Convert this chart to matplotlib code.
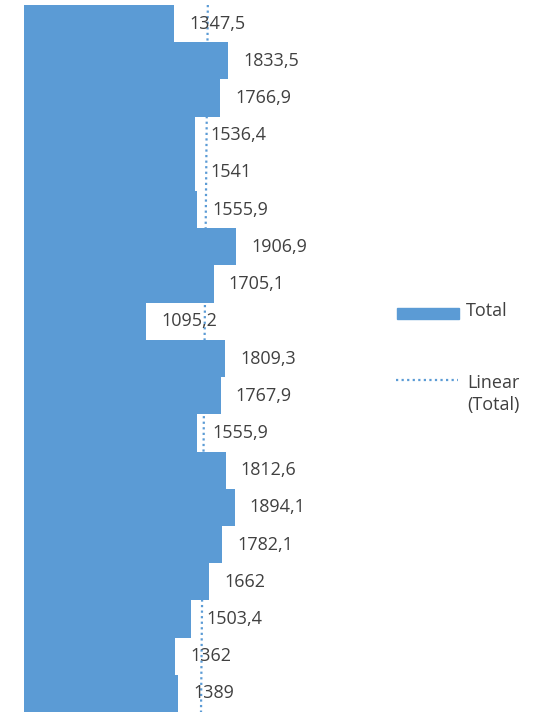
import matplotlib
matplotlib.use("Agg")
import matplotlib.pyplot as plt
import numpy as np
from matplotlib.lines import Line2D
from matplotlib.patches import Rectangle

values = [1347.5, 1833.5, 1766.9, 1536.4, 1541, 1555.9, 1906.9, 1705.1, 1095.2,
          1809.3, 1767.9, 1555.9, 1812.6, 1894.1, 1782.1, 1662, 1503.4, 1362, 1389]
labels = [f"{v:g}".replace(".", ",") for v in values]

BLUE = "#5B9BD5"
TXT = "#404040"
FS = 13
plt.rcParams["font.family"] = ["Open Sans", "DejaVu Sans"]

W, H = 534, 712
fig = plt.figure(figsize=(W / 100, H / 100), dpi=100)
# axes placed in pixel terms: x from 24 px, y from 5 px to 712 px
ax = fig.add_axes([24 / W, 0 / H, 278 / W, 707 / H])

y = np.arange(len(values))
ax.barh(y, values, height=1.0, color=BLUE, zorder=2)

# linear trendline (Excel style), drawn behind the bars
k, b = np.polyfit(y, values, 1)
ty = np.array([-0.5, len(values) - 0.5])
ax.plot(k * ty + b, ty, ls=(0, (1, 1.5)), color=BLUE, lw=1.6, zorder=1)

for yi, v, lab in zip(y, values, labels):
    ax.annotate(lab, (v, yi), xytext=(11, 0), textcoords="offset points",
                va="center", ha="left", fontsize=FS, color=TXT, zorder=3,
                annotation_clip=False)

ax.set_xlim(0, 2500)
ax.set_ylim(len(values) - 0.5, -0.5)
ax.axis("off")

# legend
fig.patches.append(Rectangle((397 / W, 1 - 319 / H), 62 / W, 11 / H,
                             transform=fig.transFigure, color=BLUE))
fig.text(466 / W, 1 - 311 / H, "Total", fontsize=FS, color=TXT, va="center")
fig.lines.append(Line2D([396 / W, 458 / W], [1 - 380 / H] * 2,
                        transform=fig.transFigure, ls=(0, (1, 1.5)),
                        color=BLUE, lw=1.6))
fig.text(467 / W, 1 - 394 / H, "Linear\n(Total)", fontsize=FS, color=TXT,
         va="center", linespacing=1.25)

fig.savefig("out.png", dpi=100)
